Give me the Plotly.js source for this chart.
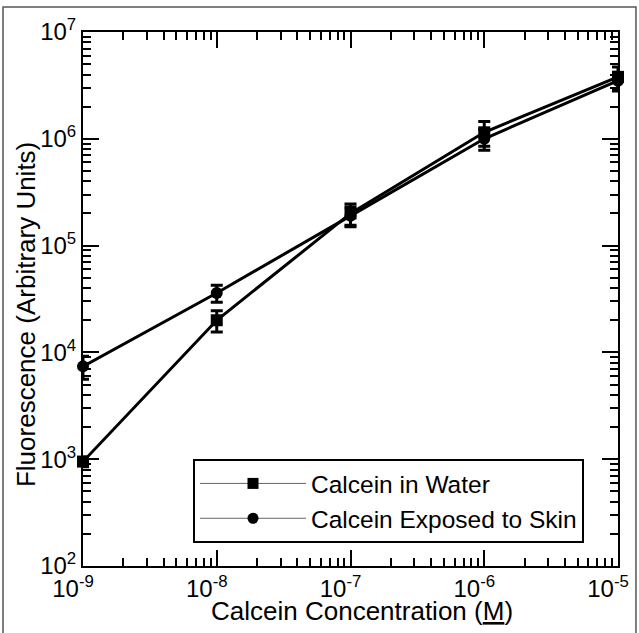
<!DOCTYPE html>
<html>
<head>
<meta charset="utf-8">
<script src="https://cdn.plot.ly/plotly-3.0.1.min.js"></script>
<style>
  html, body { margin: 0; padding: 0; background: #fff; }
  #chart { width: 639px; height: 633px; }
</style>
</head>
<body>
<div id="chart"></div>
<script>
// Calcein concentration (M)
const concentration = [1e-9, 1e-8, 1e-7, 1e-6, 1e-5];

// Fluorescence, calcein in water (mean and error)
const waterFluor = [950, 20000, 200000, 1150000, 3800000];
const waterErr   = [100, 4500, 45000, 300000, 900000];

// Fluorescence, calcein exposed to skin (mean and error)
const skinFluor = [7400, 36000, 190000, 1000000, 3500000];
const skinErr   = [1800, 6500, 40000, 220000, 700000];

// Tick labels
const xTickVals = [1e-9, 1e-8, 1e-7, 1e-6, 1e-5];
const xTickText = ['10<sup>-9</sup>', '10<sup>-8</sup>', '10<sup>-7</sup>', '10<sup>-6</sup>', '10<sup>-5</sup>'];
const yTickVals = [1e2, 1e3, 1e4, 1e5, 1e6, 1e7];
const yTickText = ['10<sup>2</sup>', '10<sup>3</sup>', '10<sup>4</sup>', '10<sup>5</sup>', '10<sup>6</sup>', '10<sup>7</sup>'];

const seriesNames = ['Calcein in Water', 'Calcein Exposed to Skin'];

const FONT = 'Liberation Sans, Arial, Helvetica, sans-serif';

const errStyle = (arr) => ({
  type: 'data', array: arr, visible: true,
  color: '#000', thickness: 3, width: 6
});

const traces = [
  {
    x: concentration, y: waterFluor, type: 'scatter', mode: 'lines+markers',
    name: seriesNames[0], showlegend: false, cliponaxis: false,
    line: { color: '#000', width: 3 },
    marker: { symbol: 'square', size: 12, color: '#000' },
    error_y: errStyle(waterErr)
  },
  {
    x: concentration, y: skinFluor, type: 'scatter', mode: 'lines+markers',
    name: seriesNames[1], showlegend: false, cliponaxis: false,
    line: { color: '#000', width: 3 },
    marker: { symbol: 'circle', size: 12, color: '#000' },
    error_y: errStyle(skinErr)
  },
  // legend keys: thin line with a marker
  {
    x: [null], y: [null], type: 'scatter', mode: 'lines+markers',
    name: seriesNames[0], showlegend: true,
    line: { color: '#666', width: 1 },
    marker: { symbol: 'square', size: 11, color: '#000' }
  },
  {
    x: [null], y: [null], type: 'scatter', mode: 'lines+markers',
    name: seriesNames[1], showlegend: true,
    line: { color: '#666', width: 1 },
    marker: { symbol: 'circle', size: 11, color: '#000' }
  }
];

const axisCommon = {
  type: 'log',
  showgrid: false,
  zeroline: false,
  showline: true,
  linecolor: '#000',
  linewidth: 2,
  mirror: 'ticks',
  ticks: 'inside',
  ticklen: 16,
  tickwidth: 2,
  tickcolor: '#000',
  tickmode: 'array',
  tickfont: { family: FONT, size: 24, color: '#000' },
  minor: { dtick: 'D1', ticks: 'inside', ticklen: 8, tickwidth: 2, tickcolor: '#000', showgrid: false }
};

const layout = {
  width: 639,
  height: 633,
  margin: { l: 83, r: 21, t: 32, b: 67 },
  paper_bgcolor: '#fff',
  plot_bgcolor: '#fff',
  font: { family: FONT, color: '#000' },
  xaxis: Object.assign({}, axisCommon, {
    range: [-9, -5],
    tickvals: xTickVals,
    ticktext: xTickText,
    ticklabelshift: -10,
    ticklabelstandoff: 0
  }),
  yaxis: Object.assign({}, axisCommon, {
    range: [2, 7],
    tickvals: yTickVals,
    ticktext: yTickText
  }),
  legend: {
    x: 0.2056, y: 0.2004, xanchor: 'left', yanchor: 'top',
    bgcolor: '#fff', bordercolor: '#000', borderwidth: 2,
    font: { family: FONT, size: 24.5, color: '#000' },
    itemwidth: 106
  },
  annotations: [
    {
      text: 'Calcein Concentration (<u>M</u>)',
      xref: 'paper', yref: 'paper', x: 0.5215, y: -0.084,
      xanchor: 'center', yanchor: 'middle', showarrow: false,
      font: { family: FONT, size: 26, color: '#000' }
    },
    {
      text: 'Fluorescence (Arbitrary Units)',
      xref: 'paper', yref: 'paper', x: -0.1065, y: 0.47,
      xanchor: 'center', yanchor: 'middle', showarrow: false, textangle: -90,
      font: { family: FONT, size: 26, color: '#000' }
    }
  ],
  shapes: [
    {
      type: 'rect', xref: 'paper', yref: 'paper',
      x0: -0.1495, x1: 1.0336, y0: -0.14, y1: 1.0468,
      line: { color: '#555', width: 1.5 }, fillcolor: 'rgba(0,0,0,0)', layer: 'below'
    }
  ]
};

Plotly.newPlot('chart', traces, layout, { displayModeBar: false, staticPlot: true });
</script>
</body>
</html>
